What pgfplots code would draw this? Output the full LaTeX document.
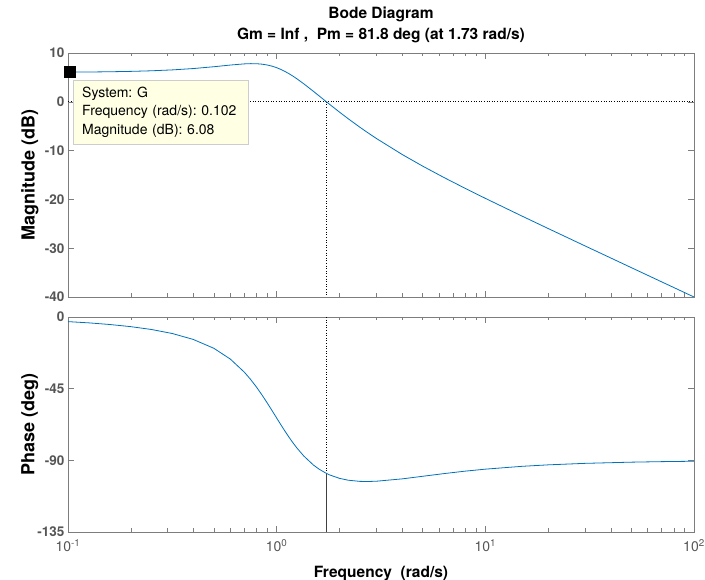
\documentclass[border=0pt]{standalone}
\usepackage{fontspec}
\setmainfont{TeX Gyre Heros}
\usepackage{pgfplots}
\pgfplotsset{compat=1.18}
\frenchspacing

\definecolor{mblue}{RGB}{0,114,189}
\definecolor{axgray}{RGB}{125,125,125}
\definecolor{lblgray}{RGB}{85,85,85}
\definecolor{tipfill}{RGB}{255,255,228}
\definecolor{tipedge}{RGB}{205,205,205}

\pgfplotsset{
  bodeax/.style={
    scale only axis, width=626pt,
    xmin=0.1, xmax=100,
    axis line style={axgray, line width=0.6pt},
    tick align=inside,
    tick style={axgray, line width=0.5pt},
    major tick length=6pt, minor tick length=3.5pt,
    xtick={0.1,1,10,100},
    minor xtick={0.2,0.3,0.4,0.5,0.6,0.7,0.8,0.9,2,3,4,5,6,7,8,9,20,30,40,50,60,70,80,90},
    yticklabel style={font=\bfseries\fontsize{13.5}{15}\selectfont, text=lblgray},
    xticklabel style={font=\fontsize{14}{16}\selectfont, text=lblgray, yshift=-4pt},
    ylabel style={at={(axis description cs:-0.061,0.5)}, rotate=0, anchor=center,
      font=\bfseries\fontsize{18}{20}\selectfont},
  },
}

\begin{document}
\begin{tikzpicture}
\path[use as bounding box] (-68pt,-283pt) rectangle (637pt,297pt);

% magnitude
\begin{semilogxaxis}[bodeax, name=mag, at={(0pt,0pt)}, anchor=south west,
  height=244pt, ymin=-40, ymax=10,
  ytick={-40,-30,-20,-10,0,10},
  yticklabels={-40,-30,-20,-10,0,10},
  xticklabels={},
  ylabel={Magnitude (dB)},
  title={Bode Diagram\\Gm = Inf ,\ \ Pm = 81.8 deg (at 1.73 rad/s)},
  title style={align=center, font=\bfseries\fontsize{15.5}{21}\selectfont, yshift=1pt},
]
\addplot[black, dotted, line width=0.6pt] coordinates {(0.1,0) (100,0)};
\addplot[black, dotted, line width=0.6pt] coordinates {(1.732,0) (1.732,-40)};
\addplot[mblue, line width=0.8pt] coordinates {
(0.1,6.075)(0.126,6.106)(0.158,6.155)(0.2,6.234)(0.251,6.353)(0.316,6.537)
(0.398,6.811)(0.5,7.186)(0.6,7.532)(0.7,7.771)(0.75,7.819)(0.8,7.803)
(0.85,7.714)(0.9,7.547)(0.95,7.304)(1,6.990)(1.05,6.613)(1.1,6.185)
(1.15,5.718)(1.2,5.225)(1.25,4.714)(1.35,3.673)(1.5,2.147)(1.6,1.185)
(1.732,0)(1.8,-0.571)(2,-2.109)(2.2,-3.455)(2.5,-5.184)(2.7,-6.180)
(3,-7.494)(4,-10.810)(5,-13.165)(6.3,-15.462)(8,-17.731)(10,-19.786)
(15,-23.426)(20,-25.967)(30,-29.518)(50,-33.971)(70,-36.898)(100,-39.998)
};
\node[draw=tipedge, fill=tipfill, anchor=north west, align=left,
  text width=175pt, minimum height=64pt, inner xsep=0pt, inner ysep=4pt,
  font=\fontsize{14}{18.5}\selectfont]
  at (rel axis cs:0.008,0.889)
  {\hspace*{9pt}System: G\\\hspace*{9pt}Frequency (rad/s): 0.102\\\hspace*{9pt}Magnitude (dB): 6.08};
\addplot[only marks, mark=square*, mark size=5.5pt, mark options={fill=black, draw=black}]
  coordinates {(0.102,6.08)};
\end{semilogxaxis}

% phase
\begin{semilogxaxis}[bodeax, at={(0pt,-20pt)}, anchor=north west,
  height=215pt, ymin=-135, ymax=0,
  ytick={-135,-90,-45,0},
  yticklabels={-135,-90,-45,0},
  xticklabels={10\textsuperscript{-1},10\textsuperscript{0},10\textsuperscript{1},10\textsuperscript{2}},
  ylabel={Phase (deg)},
  xlabel={Frequency\ \ (rad/s)},
  xlabel style={font=\bfseries\fontsize{15.5}{17}\selectfont, yshift=-7pt},
]
\addplot[black, dotted, line width=0.6pt] coordinates {(1.732,0) (1.732,-98.21)};
\addplot[black!75, line width=0.7pt] coordinates {(1.732,-98.21) (1.732,-135)};
\addplot[mblue, line width=0.8pt] coordinates {
(0.1,-2.906)(0.126,-3.69)(0.158,-4.69)(0.2,-6.06)(0.251,-7.84)(0.316,-10.36)
(0.398,-14.06)(0.5,-19.65)(0.6,-26.45)(0.7,-34.64)(0.75,-39.19)(0.8,-43.97)
(0.85,-48.90)(0.9,-53.85)(0.95,-58.73)(1,-63.43)(1.05,-67.88)(1.1,-72.00)
(1.15,-75.77)(1.2,-79.18)(1.25,-82.22)(1.35,-87.33)(1.5,-92.94)(1.6,-95.62)
(1.732,-98.21)(1.8,-99.23)(2,-101.31)(2.2,-102.47)(2.5,-103.20)(2.7,-103.30)
(3,-103.13)(4,-101.63)(5,-100.03)(6.3,-98.37)(8,-96.80)(10,-95.54)
(15,-93.76)(20,-92.84)(30,-91.90)(50,-91.15)(70,-90.82)(100,-90.57)
};
\end{semilogxaxis}
\end{tikzpicture}
\end{document}
